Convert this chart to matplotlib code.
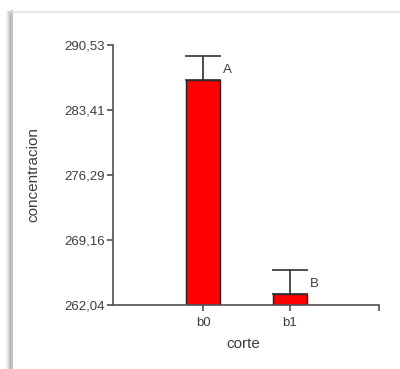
import matplotlib
matplotlib.use("Agg")
import matplotlib.pyplot as plt
from matplotlib.lines import Line2D

# Data
categories = ["b0", "b1"]
means = [286.69, 263.21]
errors = [2.62, 2.66]
letters = ["A", "B"]
ytick_values = [262.04, 269.16, 276.29, 283.41, 290.53]
ytick_labels = ["262,04", "269,16", "276,29", "283,41", "290,53"]

plt.rcParams["font.family"] = ["Liberation Sans", "DejaVu Sans"]

W, H = 400, 369
fig = plt.figure(figsize=(W / 100, H / 100), dpi=100)
fig.patch.set_facecolor("white")

# Window-like frame with a soft shadow on the left
for i, a in enumerate([0.05, 0.09, 0.14, 0.2, 0.28]):
    x = (6 + i) / W
    fig.add_artist(Line2D([x, x], [0, 1 - 11 / H], transform=fig.transFigure,
                          color="black", alpha=a, lw=0.75))
fig.add_artist(Line2D([11.5 / W, 11.5 / W], [0, 1 - 11 / H], transform=fig.transFigure,
                      color="#c4c4c4", lw=1.5))
fig.add_artist(Line2D([11 / W, 1], [1 - 11.5 / H, 1 - 11.5 / H], transform=fig.transFigure,
                      color="#e2e2e2", lw=1.2))

ax = fig.add_axes([113 / W, 1 - 305 / H, (379 - 113) / W, (305 - 45) / H])
ax.set_facecolor("none")

x = list(range(len(categories)))
axis_color = "#505050"
text_color = "#3c3c44"

ax.bar(x, means, width=0.39, color="#ff0000", edgecolor="#202020", linewidth=1.0,
       bottom=0, zorder=2)
ax.errorbar(x, means, yerr=[[0] * len(errors), errors], fmt="none",
            ecolor="#303030", elinewidth=1.2, capsize=13, capthick=1.2, zorder=3)

for xi, m, e, lab in zip(x, means, errors, letters):
    ax.annotate(lab, (xi, m + e), xytext=(17.5, -10), textcoords="offset points",
                ha="center", va="center", fontsize=9.5, color=text_color)

ax.set_ylim(ytick_values[0], ytick_values[-1])
ax.set_xlim(-1.034, 2.023)
ax.set_yticks(ytick_values)
ax.set_yticklabels(ytick_labels)
ax.set_xticks(x + [2.023])
ax.set_xticklabels(categories + [""])

for s in ["top", "right"]:
    ax.spines[s].set_visible(False)
for s in ["left", "bottom"]:
    ax.spines[s].set_color(axis_color)
    ax.spines[s].set_linewidth(1.2)

ax.tick_params(axis="both", colors=axis_color, labelcolor=text_color,
               length=4, width=1.2, labelsize=9.5, pad=2)
ax.tick_params(axis="x", pad=5)

ax.set_ylabel("concentracion", fontsize=11, color=text_color)
ax.set_xlabel("corte", fontsize=11, color=text_color)
ax.yaxis.set_label_coords((40 - 113) / (379 - 113), 0.5)
ax.xaxis.set_label_coords((243 - 113) / (379 - 113), -(344 - 305) / (305 - 45))
ax.xaxis.label.set_va("center")

fig.savefig("out.png", dpi=100, facecolor="white")
